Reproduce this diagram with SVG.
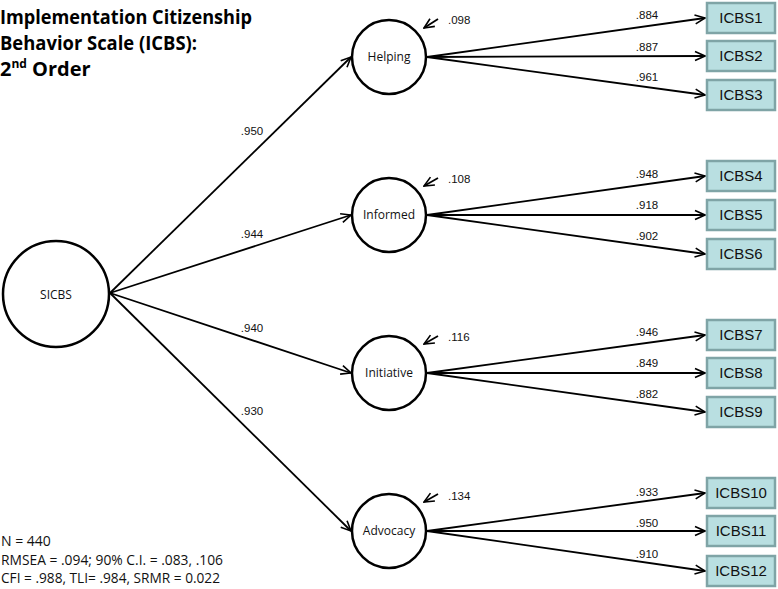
<svg xmlns="http://www.w3.org/2000/svg" width="778" height="589" viewBox="0 0 778 589">
<style>
.lat{fill:#fff;stroke:#000;stroke-width:2.5}
.box{fill:#b9dfe1;stroke:#7fa4a6;stroke-width:2.5}
.ln{stroke:#000;stroke-width:1.8;fill:none;marker-end:url(#arr)}
.num{font-family:"Liberation Sans",Arial,sans-serif;font-size:11.5px;fill:#111}
.lab{font-family:"Open Sans","Liberation Sans",sans-serif;font-size:12px;fill:#111;text-anchor:middle}
.bl{font-family:"Liberation Sans",Arial,sans-serif;font-size:15px;fill:#111;text-anchor:middle}
.ttl{font-family:"Open Sans","Liberation Sans",sans-serif;font-size:20px;font-weight:bold;fill:#000}
.st{font-family:"Open Sans","Liberation Sans",sans-serif;font-size:14px;fill:#111}
.c{text-anchor:middle}
</style>
<defs>
<marker id="arr" viewBox="0 0 12 12" refX="11" refY="6" markerWidth="12" markerHeight="12" markerUnits="userSpaceOnUse" orient="auto">
<path d="M1,1.5 L11,6 L1,10.5" fill="none" stroke="#000" stroke-width="1.6"/>
</marker>
</defs>

<g id="title">
<text class="ttl" x="0" y="24" textLength="252" lengthAdjust="spacingAndGlyphs">Implementation Citizenship</text>
<text class="ttl" x="0" y="50" textLength="197" lengthAdjust="spacingAndGlyphs">Behavior Scale (ICBS):</text>
<text class="ttl" x="0" y="76">2<tspan font-size="12" dy="-8">nd</tspan><tspan dy="8"> Order</tspan></text>
</g>

<g id="connectors">
<line class="ln" x1="110" y1="293" x2="351" y2="57"/>
<line class="ln" x1="110" y1="293" x2="351" y2="215"/>
<line class="ln" x1="110" y1="293" x2="351" y2="373"/>
<line class="ln" x1="110" y1="293" x2="351" y2="531"/>

<line class="ln" x1="427" y1="57" x2="705" y2="18"/>
<line class="ln" x1="427" y1="57" x2="705" y2="56"/>
<line class="ln" x1="427" y1="57" x2="705" y2="95"/>
<line class="ln" x1="427" y1="215" x2="705" y2="176"/>
<line class="ln" x1="427" y1="215" x2="705" y2="215"/>
<line class="ln" x1="427" y1="215" x2="705" y2="254"/>
<line class="ln" x1="427" y1="373" x2="705" y2="335"/>
<line class="ln" x1="427" y1="373" x2="705" y2="373"/>
<line class="ln" x1="427" y1="373" x2="705" y2="412"/>
<line class="ln" x1="427" y1="531" x2="705" y2="493"/>
<line class="ln" x1="427" y1="531" x2="705" y2="531"/>
<line class="ln" x1="427" y1="531" x2="705" y2="571"/>

<line class="ln" x1="438" y1="19" x2="424" y2="28"/>
<line class="ln" x1="438" y1="178" x2="424" y2="186"/>
<line class="ln" x1="438" y1="336" x2="424" y2="344"/>
<line class="ln" x1="438" y1="494" x2="424" y2="502"/>

<text class="num c" x="252" y="135">.950</text>
<text class="num c" x="252" y="238">.944</text>
<text class="num c" x="252" y="332">.940</text>
<text class="num c" x="252" y="415">.930</text>

<text class="num c" x="647" y="19">.884</text>
<text class="num c" x="647" y="51">.887</text>
<text class="num c" x="647" y="81">.961</text>
<text class="num c" x="647" y="178">.948</text>
<text class="num c" x="647" y="209">.918</text>
<text class="num c" x="647" y="240">.902</text>
<text class="num c" x="647" y="336">.946</text>
<text class="num c" x="647" y="367">.849</text>
<text class="num c" x="647" y="398">.882</text>
<text class="num c" x="647" y="496">.933</text>
<text class="num c" x="647" y="527">.950</text>
<text class="num c" x="647" y="558">.910</text>

<text class="num" x="448" y="24">.098</text>
<text class="num" x="448" y="183">.108</text>
<text class="num" x="448" y="341">.116</text>
<text class="num" x="448" y="500">.134</text>
</g>

<g id="SICBS"><circle class="lat" cx="56" cy="294" r="53"/><text class="lab" x="56" y="299" font-size="15">SICBS</text></g>
<g id="Helping"><circle class="lat" cx="389" cy="57" r="37"/><text class="lab" x="389" y="61">Helping</text></g>
<g id="Informed"><circle class="lat" cx="389" cy="215" r="37"/><text class="lab" x="389" y="219">Informed</text></g>
<g id="Initiative"><circle class="lat" cx="389" cy="373" r="37"/><text class="lab" x="389" y="377">Initiative</text></g>
<g id="Advocacy"><circle class="lat" cx="389" cy="531" r="37"/><text class="lab" x="389" y="535">Advocacy</text></g>

<g id="ICBS1"><rect class="box" x="707" y="3" width="68" height="30"/><text class="bl" x="741" y="23">ICBS1</text></g>
<g id="ICBS2"><rect class="box" x="707" y="41" width="68" height="30"/><text class="bl" x="741" y="61">ICBS2</text></g>
<g id="ICBS3"><rect class="box" x="707" y="80" width="68" height="30"/><text class="bl" x="741" y="100">ICBS3</text></g>
<g id="ICBS4"><rect class="box" x="707" y="161" width="68" height="30"/><text class="bl" x="741" y="181">ICBS4</text></g>
<g id="ICBS5"><rect class="box" x="707" y="200" width="68" height="30"/><text class="bl" x="741" y="220">ICBS5</text></g>
<g id="ICBS6"><rect class="box" x="707" y="239" width="68" height="30"/><text class="bl" x="741" y="259">ICBS6</text></g>
<g id="ICBS7"><rect class="box" x="707" y="320" width="68" height="30"/><text class="bl" x="741" y="340">ICBS7</text></g>
<g id="ICBS8"><rect class="box" x="707" y="358" width="68" height="30"/><text class="bl" x="741" y="378">ICBS8</text></g>
<g id="ICBS9"><rect class="box" x="707" y="397" width="68" height="30"/><text class="bl" x="741" y="417">ICBS9</text></g>
<g id="ICBS10"><rect class="box" x="707" y="478" width="68" height="30"/><text class="bl" x="741" y="498">ICBS10</text></g>
<g id="ICBS11"><rect class="box" x="707" y="516" width="68" height="30"/><text class="bl" x="741" y="536">ICBS11</text></g>
<g id="ICBS12"><rect class="box" x="707" y="556" width="68" height="30"/><text class="bl" x="741" y="576">ICBS12</text></g>

<g id="stats">
<text class="st" x="1" y="546">N = 440</text>
<text class="st" x="1" y="565" textLength="222" lengthAdjust="spacingAndGlyphs">RMSEA = .094; 90% C.I. = .083, .106</text>
<text class="st" x="1" y="583" textLength="219" lengthAdjust="spacingAndGlyphs">CFI = .988, TLI= .984, SRMR = 0.022</text>
</g>
</svg>
